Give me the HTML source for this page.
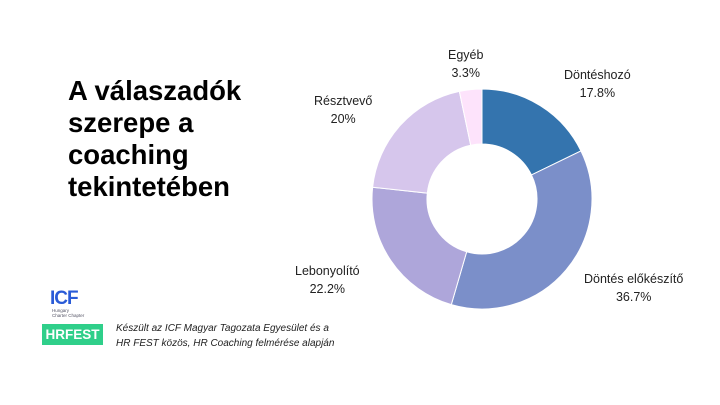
<!DOCTYPE html>
<html><head><meta charset="utf-8"><style>
body{margin:0;width:720px;height:405px;background:#fff;font-family:"Liberation Sans",sans-serif;position:relative;overflow:hidden}
.t{position:absolute;left:68px;top:75px;font-size:27.5px;font-weight:bold;line-height:32px;color:#000}
.l{position:absolute;font-size:12.5px;color:#222;text-align:center;line-height:18px}
.foot{position:absolute;left:116px;top:321px;font-size:10px;font-style:italic;color:#222;line-height:15px}
.hr{position:absolute;left:42px;top:324px;width:61px;height:21px;background:#2fcf8a;color:#fff;font-weight:bold;font-size:13.5px;line-height:21px;text-align:center}
.icf{position:absolute;left:50px;top:288px;font-weight:900;font-size:19px;color:#2a5bd7;letter-spacing:-1px}
.icfs{position:absolute;left:52px;top:308px;font-size:4.5px;color:#556;line-height:5px}
</style></head><body>
<div class="t">A válaszadók<br>szerepe a<br>coaching<br>tekintetében</div>
<svg width="720" height="405" style="position:absolute;left:0;top:0" id="s"></svg>
<div class="l" style="left:448px;top:46px">Egyéb<br>3.3%</div>
<div class="l" style="left:564px;top:66px">Döntéshozó<br>17.8%</div>
<div class="l" style="left:314px;top:92px">Résztvevő<br>20%</div>
<div class="l" style="left:295px;top:262px">Lebonyolító<br>22.2%</div>
<div class="l" style="left:584px;top:270px">Döntés előkészítő<br>36.7%</div>
<div class="icf">ICF</div>
<div class="icfs">Hungary<br>Charter Chapter</div>
<div class="hr">HRFEST</div>
<div class="foot">Készült az ICF Magyar Tagozata Egyesület és a<br>HR FEST közös, HR Coaching felmérése alapján</div>
<script>
var d=[17.8,36.7,22.2,20,3.3],c=["#3474ae","#7b8fc9","#aea6da","#d6c6ec","#fde3fb"];
var cx=482,cy=199,R=110,r=55,a=0,s="";
function p(rad,ang){return (cx+rad*Math.sin(ang)).toFixed(2)+","+(cy-rad*Math.cos(ang)).toFixed(2)}
for(var i=0;i<5;i++){var b=a+d[i]/100*2*Math.PI,lg=(b-a)>Math.PI?1:0;
s+='<path fill="'+c[i]+'" stroke="#fff" stroke-width="1" d="M'+p(R,a)+'A'+R+','+R+' 0 '+lg+' 1 '+p(R,b)+'L'+p(r,b)+'A'+r+','+r+' 0 '+lg+' 0 '+p(r,a)+'Z"/>';a=b;}
document.getElementById("s").innerHTML=s;
</script>
</body></html>
